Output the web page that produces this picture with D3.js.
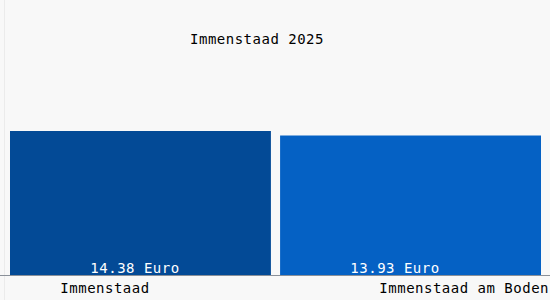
<!DOCTYPE html>
<html>
<head>
<style>
  body {
    margin: 0;
    background-color: #ffffff;
  }

  .label {
    font-family: 'DejaVu Sans Mono', monospace;
    font-size: 14px;
    letter-spacing: 0.5px;
  }
</style>
  <script src="https://d3js.org/d3.v7.min.js"></script>
</head>
<body>
<script>
  const title = 'Immenstaad 2025';
  const categories = ['Immenstaad', 'Immenstaad am Boden'];
  const values = [14.38, 13.93];
  const valueLabels = ['14.38 Euro', '13.93 Euro'];
  const barColors = ['#034a96', '#0561c4'];

  const width = 550;
  const height = 300;

  const svg = d3.select('body')
    .append('svg')
    .attr('width', width)
    .attr('height', height);

  svg.append('rect')
    .attr('width', width)
    .attr('height', height)
    .attr('fill', '#f8f8f8');

  // faint frame line on the left
  svg.append('line')
    .attr('x1', 4.5).attr('x2', 4.5)
    .attr('y1', 0).attr('y2', height)
    .attr('stroke', '#ebebeb');

  const x = d3.scaleBand()
    .domain(categories)
    .range([10, 541])
    .paddingInner(0.034)
    .paddingOuter(0);

  // the value labels sit a bit left of the bar centres
  const xLabel = d3.scaleBand()
    .domain(categories)
    .range([5, 525]);

  const y = d3.scaleLinear()
    .domain([0, 14.38])
    .range([275, 131]);

  svg.selectAll('.bar')
    .data(values)
    .join('rect')
    .attr('class', 'bar')
    .attr('x', (d, i) => x(categories[i]))
    .attr('y', d => y(d))
    .attr('width', x.bandwidth())
    .attr('height', d => y(0) - y(d))
    .attr('fill', (d, i) => barColors[i]);

  svg.selectAll('.value')
    .data(valueLabels)
    .join('text')
    .attr('class', 'label value')
    .attr('x', (d, i) => xLabel(categories[i]) + xLabel.bandwidth() / 2)
    .attr('y', 272.5)
    .attr('text-anchor', 'middle')
    .attr('fill', '#ffffff')
    .text(d => d);

  // axis line
  svg.append('line')
    .attr('x1', 0).attr('x2', width)
    .attr('y1', 275.5).attr('y2', 275.5)
    .attr('stroke', '#8a9099');

  svg.append('text')
    .attr('class', 'label')
    .attr('x', 105)
    .attr('y', 293)
    .attr('text-anchor', 'middle')
    .attr('fill', '#000')
    .text(categories[0]);

  svg.append('text')
    .attr('class', 'label')
    .attr('x', 549)
    .attr('y', 293)
    .attr('text-anchor', 'end')
    .attr('fill', '#000')
    .text(categories[1]);

  svg.append('text')
    .attr('class', 'label')
    .attr('x', 257)
    .attr('y', 44)
    .attr('text-anchor', 'middle')
    .attr('fill', '#000')
    .text(title);
</script>
</body>
</html>
